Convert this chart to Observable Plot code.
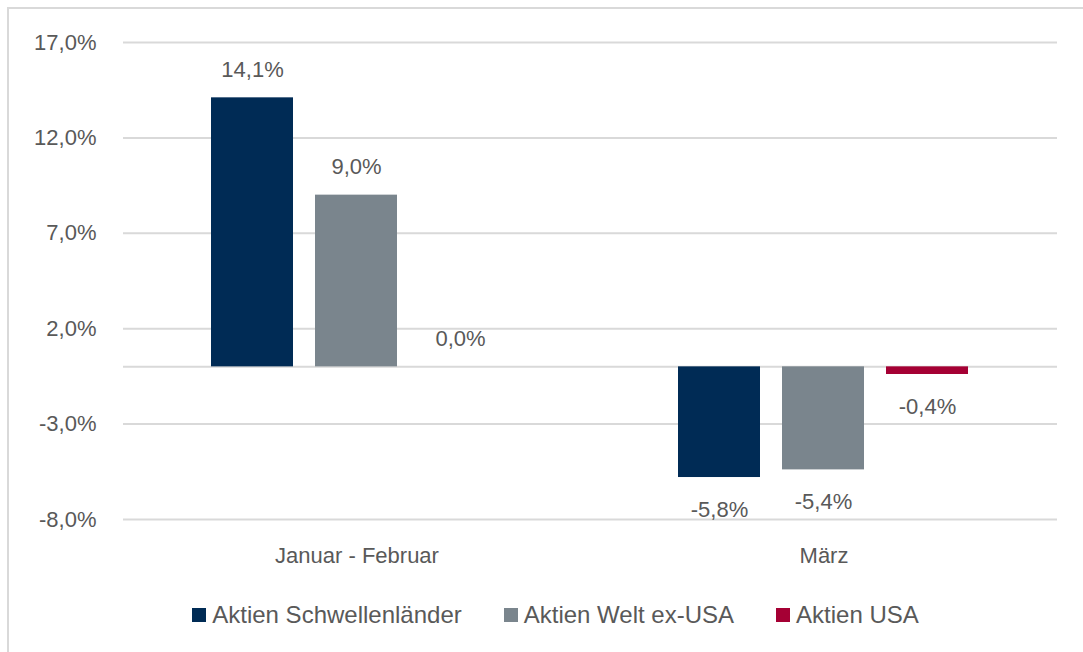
<!DOCTYPE html>
<html><head><meta charset="utf-8">
<script src="https://cdn.jsdelivr.net/npm/d3@7"></script>
<script src="https://cdn.jsdelivr.net/npm/@observablehq/plot@0.6"></script>
<style>
html,body{margin:0;padding:0;background:#fff;width:1083px;height:652px;overflow:hidden;}
#frame{position:absolute;left:7px;top:7px;width:1200px;height:800px;border-left:2px solid #d9d9d9;border-top:2px solid #d9d9d9;}
#chart{position:absolute;left:0;top:0;}
#legend{position:absolute;top:600px;left:14px;width:1083px;display:flex;justify-content:center;font-family:"Liberation Sans",Arial,sans-serif;font-size:24px;color:#595959;line-height:30px;}
.item{display:flex;align-items:center;margin:0 21px;}
.sw{width:14px;height:14px;margin-right:6px;}
</style></head>
<body>
<div id="frame"></div>
<div id="chart"></div>
<div id="legend"></div>
<script>
const categories = ["Januar - Februar", "März"];
const series = ["Aktien Schwellenländer", "Aktien Welt ex-USA", "Aktien USA"];
const schwellen = [14.1, -5.8];
const weltExUSA = [9.0, -5.4];
const usa = [0.0, -0.4];
const colors = ["#002B55", "#7A858D", "#A50034"];
const yTicks = [17, 12, 7, 2, -3, -8];

const seriesValues = [schwellen, weltExUSA, usa];
const data = [];
categories.forEach((c, i) => series.forEach((s, j) => data.push({cat: c, series: s, value: seriesValues[j][i]})));
const fmt = v => v.toFixed(1).replace(".", ",") + "%";

const plot = Plot.plot({
  width: 1083, height: 580,
  marginTop: 42, marginBottom: 61, marginLeft: 122, marginRight: 26,
  style: {fontFamily: "'Liberation Sans', Arial, sans-serif", fontSize: "22px", color: "#595959", background: "transparent"},
  fx: {domain: categories, padding: 0, label: null, axis: "bottom", tickSize: 0, tickPadding: 28},
  x: {domain: series, paddingInner: 0.21, paddingOuter: 0.84, axis: null},
  y: {domain: [-8, 17], ticks: yTicks, tickFormat: fmt, label: null, tickSize: 0, tickPadding: 27},
  color: {domain: series, range: colors},
  marks: [
    Plot.gridY(yTicks, {stroke: "#d9d9d9", strokeWidth: 2, strokeOpacity: 1}),
    Plot.ruleY([0], {stroke: "#d9d9d9", strokeWidth: 2}),
    Plot.barY(data, {fx: "cat", x: "series", y: "value", fill: "series"}),
    Plot.text(data.filter(d => d.value >= 0), {fx: "cat", x: "series", y: "value", text: d => fmt(d.value), dy: -28, fill: "#595959", fontSize: 22}),
    Plot.text(data.filter(d => d.value < 0), {fx: "cat", x: "series", y: "value", text: d => fmt(d.value), dy: 32, fill: "#595959", fontSize: 22})
  ]
});
document.getElementById("chart").appendChild(plot);

const legend = document.getElementById("legend");
series.forEach((s, i) => {
  const it = document.createElement("div"); it.className = "item";
  const sw = document.createElement("span"); sw.className = "sw"; sw.style.background = colors[i];
  const t = document.createElement("span"); t.textContent = s;
  it.appendChild(sw); it.appendChild(t); legend.appendChild(it);
});
</script>
</body></html>
